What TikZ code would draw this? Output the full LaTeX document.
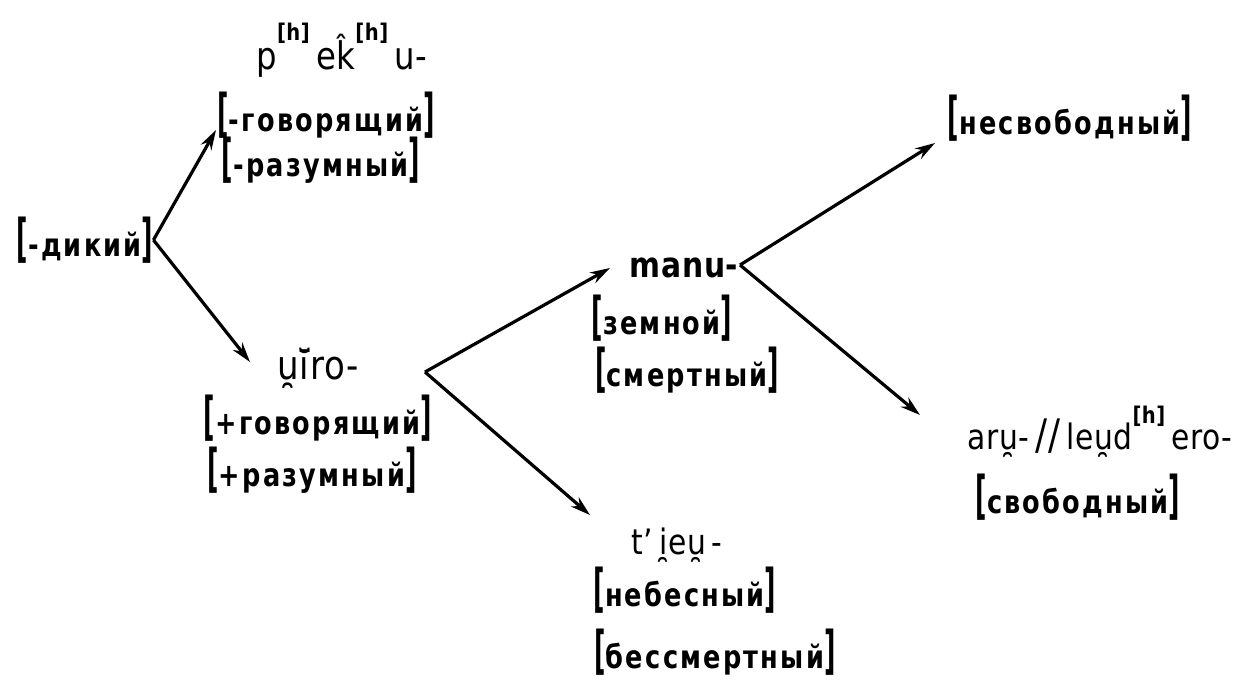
\documentclass[tikz,border=0pt]{standalone}
\usepackage{fontspec}
\usepackage{graphicx}
\setmainfont{DejaVu Sans}[FakeStretch=0.85]
\newfontfamily\cyr{DejaVu Sans}[FakeStretch=0.8, LetterSpace=7]
\newfontfamily\trf{DejaVu Sans}[FakeStretch=0.85, LetterSpace=2]
\usetikzlibrary{arrows.meta}
\newcommand\asp[1]{\raisebox{0.75em}{\fontsize{23}{23}\selectfont\bfseries #1}}
\newcommand\lbk{\scalebox{0.6}[1]{\fontsize{52}{52}\selectfont\bfseries[}}
\newcommand\rbk{\scalebox{0.6}[1]{\fontsize{52}{52}\selectfont\bfseries]}}
\newcommand\bk[1]{\lbk#1\rbk}
\begin{document}
\begin{tikzpicture}[x=1pt,y=-1pt,
  lab/.style={inner sep=0pt, font=\cyr\fontsize{32}{32}\selectfont\bfseries},
  tr/.style={inner sep=0pt, font=\trf\fontsize{35}{35}\selectfont},
  arr/.style={line width=3.2pt, -{Stealth[length=20pt,width=12pt]}}]
\path[use as bounding box] (0,0) rectangle (1248,680);
% nodes
\node[lab] (dik) at (85,240) {\bk{-дикий}};
\node[tr, font=\trf\fontsize{38}{38}\selectfont] (pek) at (342,50) {p\asp{[h]}\,ek̂\asp{[h]}\,u-};
\node[lab] (g1) at (326,115) {\bk{-говорящий}};
\node[lab] (r1) at (321,160) {\bk{-разумный}};
\node[tr, font=\trf\fontsize{40}{40}\selectfont] (wiro) at (318,368) {u̯ı̄̆ro-};
\node[lab] (g2) at (318,418) {\bk{+говорящий}};
\node[lab] (r2) at (312,470) {\bk{+разумный}};
\node[tr, font=\trf\fontsize{35}{35}\selectfont\bfseries] (manu) at (684,268) {manu-};
\node[lab] (zem) at (662,318) {\bk{земной}};
\node[lab] (smer) at (687,370) {\bk{смертный}};
\node[lab] (nesv) at (1070,118) {\bk{несвободный}};
\node[tr] (aru) at (1100,432) {aru̯-\,{\fontsize{42}{42}\selectfont//}\,leu̯d\asp{[h]}\,ero-};
\node[lab] (svob) at (1078,497) {\bk{свободный}};
\node[tr] (tieu) at (677,545) {t’\,i̯eu̯\,-};
\node[lab] (neb) at (685,590) {\bk{небесный}};
\node[lab] (bes) at (715,652) {\bk{бессмертный}};
% branching points and arrow tips
\coordinate (t1) at (216,130);
\coordinate (t2) at (250,362);
\coordinate (w0) at (425,372);
\coordinate (t3) at (610,268);
\coordinate (t4) at (590,515);
\coordinate (m0) at (740,265);
\coordinate (t5) at (935,143);
\coordinate (t6) at (920,415);
% arrows
\draw[arr] (dik.east) -- (t1);
\draw[arr] (dik.east) -- (t2);
\draw[arr] (w0) -- (t3);
\draw[arr] (w0) -- (t4);
\draw[arr] (m0) -- (t5);
\draw[arr] (m0) -- (t6);
\end{tikzpicture}
\end{document}
